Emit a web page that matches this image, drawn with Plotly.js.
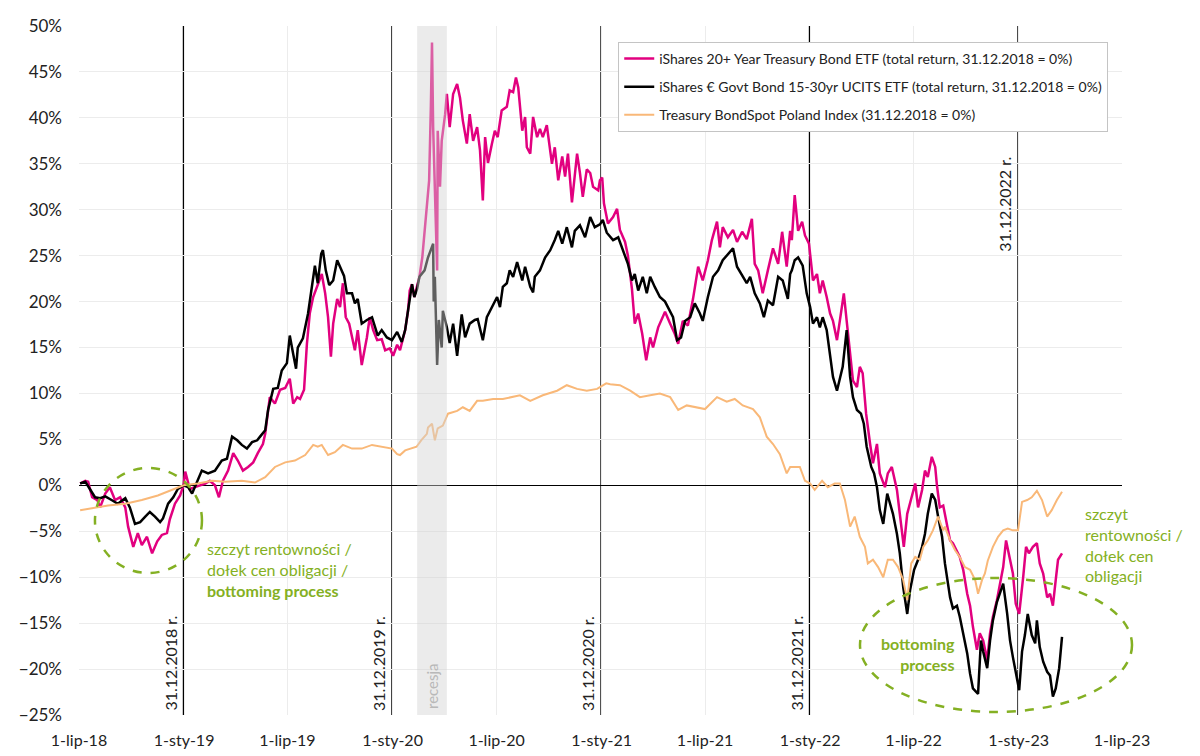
<!DOCTYPE html>
<html>
<head>
<meta charset="utf-8">
<script src="https://cdn.plot.ly/plotly-3.0.1.min.js"></script>
<style>html,body{margin:0;padding:0;background:#fff;}#chart{width:1200px;height:756px;}</style>
</head>
<body>
<div id="chart"></div>
<script>
// ---- DATA ----
var seriesNames = [
  'iShares 20+ Year Treasury Bond ETF (total return, 31.12.2018 = 0%)',
  'iShares € Govt Bond 15-30yr UCITS ETF (total return, 31.12.2018 = 0%)',
  'Treasury BondSpot Poland Index (31.12.2018 = 0%)'
];

var tltDates = ['2018-07-03','2018-07-12','2018-07-17','2018-07-24','2018-08-02','2018-08-07','2018-08-16','2018-08-24','2018-09-02','2018-09-11','2018-09-20','2018-09-25','2018-10-04','2018-10-12','2018-10-19','2018-10-28','2018-11-06','2018-11-15','2018-11-23','2018-12-02','2018-12-07','2018-12-16','2018-12-25','2018-12-31',
'2019-01-03','2019-01-11','2019-01-20','2019-01-29','2019-02-07','2019-02-15','2019-02-24','2019-03-03','2019-03-10','2019-03-19','2019-03-28','2019-04-05','2019-04-14','2019-04-23','2019-05-02','2019-05-10','2019-05-19','2019-05-23','2019-05-31','2019-06-09','2019-06-18','2019-06-27','2019-07-05','2019-07-11','2019-07-18','2019-07-23','2019-07-30','2019-08-04','2019-08-09','2019-08-15','2019-08-22','2019-08-30','2019-09-05','2019-09-10','2019-09-15','2019-09-19','2019-09-26','2019-10-01','2019-10-06','2019-10-11','2019-10-17','2019-10-22','2019-10-27','2019-11-01','2019-11-08','2019-11-17','2019-11-22','2019-11-28','2019-12-05','2019-12-13','2019-12-19','2019-12-27',
'2020-01-02','2020-01-09','2020-01-14','2020-01-23','2020-01-28','2020-01-31','2020-02-04','2020-02-08','2020-02-13','2020-02-17','2020-02-22','2020-03-01','2020-03-05','2020-03-08','2020-03-10','2020-03-12','2020-03-15','2020-03-19','2020-03-20','2020-03-24','2020-03-27','2020-04-02','2020-04-05','2020-04-10','2020-04-16','2020-04-23','2020-04-28','2020-05-03','2020-05-10','2020-05-15','2020-05-21','2020-05-28','2020-06-02','2020-06-07','2020-06-11','2020-06-16','2020-06-23','2020-06-28','2020-07-03','2020-07-10','2020-07-19','2020-07-24','2020-07-30','2020-08-04','2020-08-08','2020-08-15','2020-08-20','2020-08-23','2020-08-29','2020-09-03','2020-09-10','2020-09-15','2020-09-20','2020-09-27','2020-10-06','2020-10-11','2020-10-17','2020-10-24','2020-10-29','2020-11-03','2020-11-10','2020-11-19','2020-11-24','2020-11-29','2020-12-06','2020-12-12','2020-12-17','2020-12-26','2020-12-29',
'2021-01-02','2021-01-05','2021-01-07','2021-01-12','2021-01-21','2021-01-28','2021-02-02','2021-02-11','2021-02-16','2021-02-23','2021-02-28','2021-03-06','2021-03-13','2021-03-20','2021-03-27','2021-04-01','2021-04-10','2021-04-17','2021-04-22','2021-05-01','2021-05-09','2021-05-15','2021-05-23','2021-06-01','2021-06-10','2021-06-19','2021-06-27','2021-07-06','2021-07-13','2021-07-22','2021-07-27','2021-08-01','2021-08-10','2021-08-19','2021-08-26','2021-09-04','2021-09-12','2021-09-21','2021-09-26','2021-10-02','2021-10-10','2021-10-19','2021-10-28','2021-11-06','2021-11-13','2021-11-21','2021-11-27','2021-11-30','2021-12-05','2021-12-11','2021-12-18','2021-12-23','2021-12-30',
'2022-01-06','2022-01-13','2022-01-18','2022-01-23','2022-01-30','2022-02-05','2022-02-10','2022-02-17','2022-02-22','2022-03-01','2022-03-06','2022-03-12','2022-03-17','2022-03-24','2022-03-29','2022-04-03','2022-04-09','2022-04-16','2022-04-21','2022-04-28','2022-05-03','2022-05-12','2022-05-17','2022-05-24','2022-06-02','2022-06-07','2022-06-14','2022-06-20','2022-06-28','2022-07-04','2022-07-09','2022-07-16','2022-07-21','2022-07-26','2022-08-02','2022-08-08','2022-08-11','2022-08-16','2022-08-22','2022-08-29','2022-09-03','2022-09-08','2022-09-15','2022-09-20','2022-09-26','2022-10-03','2022-10-08','2022-10-13','2022-10-20','2022-10-25','2022-10-31','2022-11-07','2022-11-12','2022-11-17','2022-11-24','2022-11-29','2022-12-05','2022-12-10','2022-12-15','2022-12-22','2022-12-27',
'2023-01-02','2023-01-09','2023-01-14','2023-01-19','2023-01-26','2023-02-02','2023-02-07','2023-02-13','2023-02-20','2023-02-25','2023-03-02','2023-03-07','2023-03-11','2023-03-18'];
var tltValues = [0.2,0.5,0.4,-1.3,-1.6,-2.4,-0.9,-0.2,-1.6,-1.3,-2.4,-4.5,-6.7,-5.2,-6.5,-5.6,-7.4,-6.1,-5.4,-5.2,-3.7,-2.0,-1.1,0,
1.5,-0.4,-0.2,0,0.2,0.5,0,-1.3,0.5,1.6,3.5,2.7,1.6,2.0,2.5,3.5,4.5,5.6,9.6,8.9,10.4,10.6,11.6,8.9,9.6,9.4,10.4,15.4,18.7,20.5,21.6,23.0,20.9,18.3,14.0,17.6,20.3,19.4,22.0,18.3,17.6,16.1,14.7,16.9,13.1,16.1,18.3,16.9,15.8,15.9,14.7,14.9,
14.1,15.3,14.7,16.9,19.0,21.2,21.9,20.5,21.6,22.7,24.8,30.7,33.2,41.2,48.2,39.0,32.5,23.4,38.6,32.5,37.5,40.4,42.6,39.0,42.6,43.7,42.2,39.7,37.2,40.4,37.5,39.0,36.5,31.0,37.9,35.1,37.2,38.6,37.9,40.8,41.2,43.0,42.8,44.4,43.3,38.6,40.1,36.8,36.1,40.1,37.9,38.8,37.9,39.2,35.0,36.8,33.2,35.8,33.6,36.1,30.8,36.1,34.0,31.4,34.4,34.0,32.5,32.1,33.2,
33.5,30.7,30.0,28.5,29.2,30.1,27.8,26.5,25.0,21.4,17.6,18.7,16.5,13.6,16.1,15.0,17.2,18.3,18.9,17.6,16.5,15.4,17.9,17.4,20.3,23.8,22.3,24.5,26.7,28.7,25.9,28.1,27.0,27.8,26.5,27.6,26.8,29.0,24.1,23.4,20.9,23.4,25.8,24.1,27.6,23.8,27.7,26.7,31.6,27.7,28.7,27.2,26.3,
22.3,23.0,20.9,22.3,20.5,18.7,17.9,15.8,17.9,20.9,17.9,14.3,11.4,10.7,12.9,12.2,7.8,4.5,2.4,4.5,1.3,-0.2,1.3,2.0,-0.5,-3.1,-6.7,-3.1,-1.3,0.2,-2.4,-0.5,1.6,0.9,3.1,2.0,0,-2.4,-2.2,-4.5,-6.0,-6.3,-7.1,-7.8,-9.2,-11.8,-13.1,-15.4,-17.9,-16.1,-16.9,-19.0,-16.1,-14.3,-12.5,-10.7,-8.9,-6.0,-7.4,-9.6,-12.9,
-14.0,-10.0,-6.7,-7.4,-6.7,-6.3,-8.5,-9.6,-12.2,-11.8,-13.1,-10.3,-8.1,-7.4];

var eurDates = ['2018-07-03','2018-07-12','2018-07-20','2018-07-29','2018-08-07','2018-08-16','2018-08-27','2018-09-07','2018-09-20','2018-09-28','2018-10-07','2018-10-16','2018-10-25','2018-11-02','2018-11-11','2018-11-20','2018-11-25','2018-12-04','2018-12-13','2018-12-21','2018-12-31',
'2019-01-08','2019-01-15','2019-01-24','2019-02-01','2019-02-12','2019-02-24','2019-03-08','2019-03-17','2019-03-26','2019-04-04','2019-04-12','2019-04-21','2019-04-30','2019-05-09','2019-05-14','2019-05-23','2019-05-28','2019-06-06','2019-06-14','2019-06-21','2019-06-30','2019-07-05','2019-07-11','2019-07-16','2019-07-19','2019-07-28','2019-08-06','2019-08-13','2019-08-18','2019-08-23','2019-08-29','2019-09-01','2019-09-06','2019-09-12','2019-09-19','2019-09-26','2019-10-03','2019-10-08','2019-10-13','2019-10-22','2019-10-27','2019-11-01','2019-11-08','2019-11-17','2019-11-26','2019-12-01','2019-12-06','2019-12-13','2019-12-22','2019-12-31',
'2020-01-09','2020-01-17','2020-01-23','2020-01-28','2020-02-04','2020-02-08','2020-02-13','2020-02-17','2020-02-26','2020-03-03','2020-03-12','2020-03-13','2020-03-15','2020-03-19','2020-03-22','2020-03-27','2020-03-29','2020-04-05','2020-04-10','2020-04-16','2020-04-23','2020-05-01','2020-05-07','2020-05-15','2020-05-24','2020-05-29','2020-06-07','2020-06-14','2020-06-23','2020-07-02','2020-07-07','2020-07-12','2020-07-19','2020-07-24','2020-07-30','2020-08-06','2020-08-15','2020-08-20','2020-08-29','2020-09-03','2020-09-06','2020-09-15','2020-09-24','2020-10-03','2020-10-11','2020-10-17','2020-10-24','2020-11-01','2020-11-10','2020-11-15','2020-11-24','2020-12-03','2020-12-12','2020-12-20','2020-12-29',
'2021-01-03','2021-01-10','2021-01-21','2021-01-30','2021-02-07','2021-02-16','2021-02-23','2021-02-28','2021-03-06','2021-03-14','2021-03-21','2021-03-27','2021-04-04','2021-04-13','2021-04-22','2021-04-27','2021-05-06','2021-05-13','2021-05-20','2021-05-27','2021-06-05','2021-06-13','2021-06-22','2021-06-27','2021-07-06','2021-07-15','2021-07-24','2021-08-01','2021-08-10','2021-08-19','2021-08-26','2021-09-05','2021-09-12','2021-09-18','2021-09-26','2021-10-05','2021-10-12','2021-10-19','2021-10-28','2021-11-06','2021-11-14','2021-11-23','2021-11-27','2021-11-30','2021-12-05','2021-12-11','2021-12-19','2021-12-26',
'2022-01-01','2022-01-06','2022-01-13','2022-01-18','2022-01-23','2022-01-30','2022-02-05','2022-02-10','2022-02-17','2022-02-22','2022-02-27','2022-03-06','2022-03-12','2022-03-17','2022-03-24','2022-03-31','2022-04-05','2022-04-10','2022-04-18','2022-04-23','2022-04-28','2022-05-03','2022-05-09','2022-05-16','2022-05-21','2022-05-26','2022-06-02','2022-06-07','2022-06-13','2022-06-20','2022-06-25','2022-07-02','2022-07-09','2022-07-16','2022-07-21','2022-07-26','2022-08-02','2022-08-08','2022-08-13','2022-08-20','2022-08-25','2022-08-30','2022-09-03','2022-09-08','2022-09-15','2022-09-20','2022-09-26','2022-10-03','2022-10-08','2022-10-13','2022-10-22','2022-10-27','2022-10-31','2022-11-07','2022-11-12','2022-11-17','2022-11-24','2022-11-29','2022-12-05','2022-12-12','2022-12-17','2022-12-22','2022-12-29',
'2023-01-02','2023-01-07','2023-01-12','2023-01-17','2023-01-24','2023-01-30','2023-02-02','2023-02-07','2023-02-13','2023-02-20','2023-02-25','2023-03-02','2023-03-07','2023-03-13','2023-03-18'];
var eurValues = [0.2,0.4,-0.4,-1.3,-1.4,-1.2,-1.6,-2.0,-1.4,-2.4,-4.2,-4.0,-3.4,-2.9,-3.4,-4.0,-3.6,-2.0,-1.3,-0.4,0,
-0.2,-0.9,0.4,1.6,1.3,1.6,2.7,2.9,5.3,4.9,4.4,4.0,4.7,4.9,5.3,6.0,8.2,10.5,10.6,12.5,13.3,16.3,14.3,12.7,15.0,16.0,18.7,21.6,23.9,22.0,25.2,25.6,23.4,21.8,22.3,24.5,23.4,22.8,20.9,20.9,19.8,20.3,17.6,18.0,18.3,17.4,16.3,16.9,16.1,15.8,
16.7,15.6,16.9,19.0,21.9,20.5,21.4,22.7,23.4,24.8,26.3,20.0,22.7,13.1,18.0,15.0,19.0,17.2,15.5,17.6,14.1,18.6,16.1,17.6,18.0,18.1,15.8,18.3,19.4,20.5,19.4,21.6,22.0,23.4,22.7,24.3,22.3,23.8,21.6,21.0,22.7,23.4,24.8,25.6,26.7,27.7,26.3,28.1,25.9,27.7,28.3,27.0,29.2,28.1,28.4,
28.9,27.5,26.7,27.0,25.6,24.1,22.3,23.0,21.2,22.7,20.9,22.7,21.6,20.5,20.0,19.4,18.3,15.8,16.1,17.9,18.3,19.8,18.7,17.9,20.5,22.7,23.4,24.5,25.2,25.8,23.8,22.7,22.0,22.7,20.9,19.8,18.3,20.1,19.6,22.7,22.3,20.3,23.0,23.4,24.5,24.8,23.9,20.9,
19.4,17.6,18.3,17.2,18.3,16.9,14.3,11.8,10.3,11.8,12.9,16.9,11.8,9.6,8.2,7.8,6.7,4.2,2.0,1.3,-0.2,-2.7,-4.2,-0.9,-2.0,-3.1,-5.3,-7.4,-11.1,-14.0,-11.4,-9.2,-8.1,-6.7,-5.3,-3.1,-0.9,-1.6,-3.4,-5.6,-8.5,-10.3,-12.2,-13.4,-13.1,-14.3,-16.1,-18.3,-20.5,-22.1,-22.7,-16.9,-18.1,-19.9,-16.9,-14.7,-12.7,-11.8,-10.7,-14.0,-16.9,-18.7,-21.2,
-22.3,-18.1,-16.3,-14.0,-16.3,-17.2,-14.7,-17.6,-19.2,-20.3,-20.7,-23.0,-22.1,-19.9,-16.5];

var tbspDates = ['2018-07-03','2018-07-29','2018-08-21','2018-09-20','2018-10-19','2018-11-16','2018-12-11','2018-12-31',
'2019-01-25','2019-02-19','2019-03-14','2019-04-12','2019-05-05','2019-05-19','2019-05-23','2019-06-09','2019-06-27','2019-07-14','2019-08-01','2019-08-15','2019-08-23','2019-08-30','2019-09-10','2019-09-22','2019-10-06','2019-10-22','2019-11-08','2019-11-26','2019-12-13','2019-12-31',
'2020-01-09','2020-01-14','2020-01-23','2020-02-04','2020-02-12','2020-02-20','2020-03-01','2020-03-03','2020-03-10','2020-03-15','2020-03-20','2020-03-29','2020-04-07','2020-04-23','2020-05-03','2020-05-15','2020-05-28','2020-06-07','2020-06-25','2020-07-12','2020-07-30','2020-08-11','2020-08-29','2020-09-20','2020-10-15','2020-11-01','2020-11-19','2020-12-06','2020-12-24',
'2021-01-09','2021-01-16','2021-02-02','2021-02-20','2021-03-09','2021-03-27','2021-04-13','2021-05-01','2021-05-15','2021-05-30','2021-06-17','2021-07-01','2021-07-22','2021-08-08','2021-08-22','2021-09-05','2021-09-23','2021-10-05','2021-10-17','2021-10-28','2021-11-09','2021-11-21','2021-11-27','2021-12-14','2021-12-23',
'2022-01-01','2022-01-09','2022-01-22','2022-02-01','2022-02-13','2022-02-22','2022-03-03','2022-03-12','2022-03-20','2022-03-29','2022-04-07','2022-04-12','2022-04-21','2022-04-30','2022-05-09','2022-05-17','2022-05-26','2022-06-04','2022-06-13','2022-06-20','2022-06-27','2022-07-04','2022-07-12','2022-07-18','2022-07-26','2022-08-04','2022-08-13','2022-08-22','2022-08-25','2022-09-03','2022-09-12','2022-09-20','2022-09-29','2022-10-08','2022-10-17','2022-10-22','2022-10-29','2022-11-03','2022-11-08','2022-11-17','2022-11-26','2022-12-05','2022-12-13','2022-12-22','2022-12-31',
'2023-01-07','2023-01-16','2023-01-24','2023-02-02','2023-02-11','2023-02-20','2023-02-28','2023-03-09','2023-03-18'];
var tbspValues = [-2.7,-2.4,-2.2,-2.0,-1.6,-1.1,-0.5,0,
0.2,0.5,0.4,0.5,0.3,0.7,0.9,2.0,2.5,2.7,3.3,4.4,4.2,4.4,3.3,3.6,4.4,4.0,4.0,4.4,4.2,4.0,
3.4,3.3,3.8,4.0,4.2,4.9,5.6,6.3,6.7,4.9,6.2,6.5,7.8,8.1,8.5,8.1,9.2,9.2,9.4,9.4,9.6,9.8,9.2,9.8,10.3,10.9,10.5,10.3,10.5,
11.1,11.0,10.9,10.3,9.6,9.8,10.0,9.6,8.2,8.7,8.5,8.3,9.6,9.1,9.4,8.7,8.3,7.4,5.3,4.5,3.4,1.3,2.0,2.0,0.5,
0.2,-0.5,0.5,-0.2,0.2,0.2,-1.6,-4.5,-3.4,-5.6,-6.7,-8.5,-8.1,-8.9,-10.0,-8.1,-8.1,-8.9,-10.3,-12.5,-8.5,-7.8,-8.1,-6.7,-6.0,-4.9,-3.4,-4.9,-4.5,-6.0,-7.1,-7.8,-8.9,-9.2,-10.3,-11.8,-10.3,-9.6,-8.2,-6.7,-5.6,-4.9,-4.7,-4.9,-4.9,
-1.8,-1.6,-1.3,-0.6,-1.6,-3.4,-2.7,-1.6,-0.7];

var tickDates = ['2018-07-01','2019-01-01','2019-07-01','2020-01-01','2020-07-01','2021-01-01','2021-07-01','2022-01-01','2022-07-01','2023-01-01','2023-07-01'];
var tickLabels = ['1-lip-18','1-sty-19','1-lip-19','1-sty-20','1-lip-20','1-sty-21','1-lip-21','1-sty-22','1-lip-22','1-sty-23','1-lip-23'];
var yearEndDates = ['2018-12-31','2019-12-31','2020-12-31','2021-12-31','2022-12-31'];
var yearEndLabels = ['31.12.2018 r.','31.12.2019 r.','31.12.2020 r.','31.12.2021 r.','31.12.2022 r.'];
var recessionStart = '2020-02-13', recessionEnd = '2020-04-05';

// ---- CHART ----
var FONT = 'Lato, "Noto Sans", sans-serif';
var GREEN = '#84b023';
var colors = ['#e2007f', '#000000', '#f9b878'];

var traces = [
  {x: tltDates, y: tltValues, name: seriesNames[0], legendgroup: 'a'},
  {x: eurDates, y: eurValues, name: seriesNames[1], legendgroup: 'b'},
  {x: tbspDates, y: tbspValues, name: seriesNames[2], legendgroup: 'c'}
].map(function (t, i) {
  t.type = 'scatter'; t.mode = 'lines';
  t.line = {color: colors[i], width: i === 2 ? 2 : 2.5};
  t.hoverinfo = 'x+y';
  return t;
});

var shapes = [{
  type: 'rect', xref: 'x', yref: 'paper', x0: recessionStart, x1: recessionEnd, y0: 0, y1: 1,
  fillcolor: 'rgba(210,210,210,0.45)', line: {width: 0}, layer: 'above'
}];
yearEndDates.forEach(function (d) {
  shapes.push({type: 'line', xref: 'x', yref: 'paper', x0: d, x1: d, y0: 0, y1: 1,
    line: {color: '#000', width: 1.5}, layer: 'below'});
});
// dashed ellipses (paper coords so they are not clipped by the plot area)
shapes.push({type: 'circle', xref: 'paper', yref: 'paper', x0: 0.0153, x1: 0.1179, y0: 0.2061, y1: 0.3585,
  line: {color: GREEN, width: 2.5, dash: 'dash'}, layer: 'above'});
shapes.push({type: 'circle', xref: 'paper', yref: 'paper', x0: 0.7488, x1: 1.0096, y0: 0.0044, y1: 0.1988,
  line: {color: GREEN, width: 2.5, dash: 'dash'}, layer: 'above'});

var annotations = [];
yearEndDates.forEach(function (d, i) {
  var top = (i === 4);
  annotations.push({
    xref: 'x', yref: 'y', x: d, y: top ? 36 : -25, text: yearEndLabels[i],
    textangle: -90, xanchor: 'right', yanchor: top ? 'top' : 'bottom',
    xshift: -2, yshift: top ? 0 : 2, showarrow: false,
    font: {family: FONT, size: 16, color: '#222'}
  });
});
annotations.push({xref: 'x', yref: 'y', x: '2020-03-10', y: -25, text: 'recesja', textangle: -90,
  xanchor: 'center', yanchor: 'bottom', yshift: 4, showarrow: false,
  font: {family: FONT, size: 15, color: '#b8b8b8'}});
annotations.push({xref: 'x', yref: 'y', x: '2019-02-07', y: -5.6,
  text: 'szczyt rentowności /<br>dołek cen obligacji /<br><b>bottoming process</b>',
  xanchor: 'left', yanchor: 'top', align: 'left', showarrow: false,
  font: {family: FONT, size: 16, color: GREEN}});
annotations.push({xref: 'x', yref: 'y', x: '2023-04-24', y: -1.8,
  text: 'szczyt<br>rentowności /<br>dołek cen<br>obligacji',
  xanchor: 'left', yanchor: 'top', align: 'left', showarrow: false,
  font: {family: FONT, size: 16, color: GREEN}});
annotations.push({xref: 'x', yref: 'y', x: '2022-09-15', y: -16.0,
  text: '<b>bottoming<br>process</b>',
  xanchor: 'right', yanchor: 'top', align: 'right', showarrow: false,
  font: {family: FONT, size: 16, color: GREEN}});

var layout = {
  width: 1200, height: 756,
  margin: {l: 79, r: 78, t: 26, b: 41},
  paper_bgcolor: '#fff', plot_bgcolor: '#fff',
  font: {family: FONT, size: 16, color: '#222'},
  showlegend: true,
  legend: {
    x: 0.517, y: 0.977, xanchor: 'left', yanchor: 'top',
    bgcolor: '#fff', bordercolor: '#c4c4c4', borderwidth: 1,
    font: {family: FONT, size: 14, color: '#222'},
    tracegroupgap: 7, itemwidth: 30
  },
  xaxis: {
    type: 'date', range: ['2018-07-01', '2023-07-01'],
    tickmode: 'array', tickvals: tickDates, ticktext: tickLabels,
    showgrid: true, gridcolor: '#ececec', gridwidth: 1,
    zeroline: false, showline: false, ticks: '', ticklabelstandoff: 14,
    tickfont: {family: FONT, size: 16, color: '#222'}, tickangle: 0
  },
  yaxis: {
    range: [-25, 50], dtick: 5, tick0: 0, ticksuffix: '%',
    showgrid: true, gridcolor: '#ececec', gridwidth: 1,
    zeroline: true, zerolinecolor: '#000', zerolinewidth: 1.5,
    showline: false, ticks: '', ticklabelstandoff: 16,
    tickfont: {family: FONT, size: 17, color: '#222'}
  },
  shapes: shapes,
  annotations: annotations
};

Plotly.newPlot('chart', traces, layout, {displayModeBar: false, staticPlot: true});
</script>
</body>
</html>
